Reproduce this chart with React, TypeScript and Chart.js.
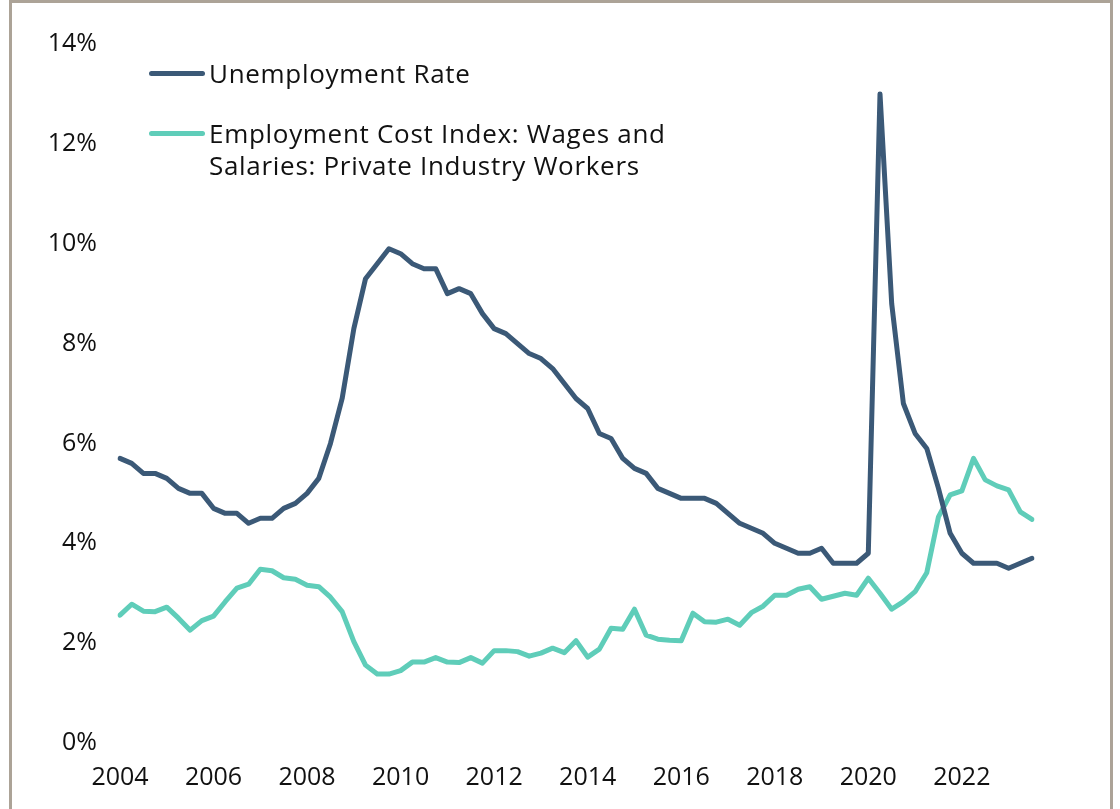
import React, { useEffect, useRef } from "react";
import { Chart, registerables } from "chart.js";

Chart.register(...registerables);

const quarters: string[] = [
  "2004Q1","2004Q2","2004Q3","2004Q4","2005Q1","2005Q2","2005Q3","2005Q4",
  "2006Q1","2006Q2","2006Q3","2006Q4","2007Q1","2007Q2","2007Q3","2007Q4",
  "2008Q1","2008Q2","2008Q3","2008Q4","2009Q1","2009Q2","2009Q3","2009Q4",
  "2010Q1","2010Q2","2010Q3","2010Q4","2011Q1","2011Q2","2011Q3","2011Q4",
  "2012Q1","2012Q2","2012Q3","2012Q4","2013Q1","2013Q2","2013Q3","2013Q4",
  "2014Q1","2014Q2","2014Q3","2014Q4","2015Q1","2015Q2","2015Q3","2015Q4",
  "2016Q1","2016Q2","2016Q3","2016Q4","2017Q1","2017Q2","2017Q3","2017Q4",
  "2018Q1","2018Q2","2018Q3","2018Q4","2019Q1","2019Q2","2019Q3","2019Q4",
  "2020Q1","2020Q2","2020Q3","2020Q4","2021Q1","2021Q2","2021Q3","2021Q4",
  "2022Q1","2022Q2","2022Q3","2022Q4","2023Q1","2023Q2","2023Q3",
];

const unemploymentRate: number[] = [
  5.7, 5.6, 5.4, 5.4, 5.3, 5.1, 5.0, 5.0,
  4.7, 4.6, 4.6, 4.4, 4.5, 4.5, 4.7, 4.8,
  5.0, 5.3, 6.0, 6.9, 8.3, 9.3, 9.6, 9.9,
  9.8, 9.6, 9.5, 9.5, 9.0, 9.1, 9.0, 8.6,
  8.3, 8.2, 8.0, 7.8, 7.7, 7.5, 7.2, 6.9,
  6.7, 6.2, 6.1, 5.7, 5.5, 5.4, 5.1, 5.0,
  4.9, 4.9, 4.9, 4.8, 4.6, 4.4, 4.3, 4.2,
  4.0, 3.9, 3.8, 3.8, 3.9, 3.6, 3.6, 3.6,
  3.8, 13.0, 8.8, 6.8, 6.2, 5.9, 5.1, 4.2,
  3.8, 3.6, 3.6, 3.6, 3.5, 3.6, 3.7,
];

const eciWages: number[] = [
  2.56, 2.78, 2.64, 2.63, 2.72, 2.5, 2.26, 2.45,
  2.54, 2.83, 3.1, 3.18, 3.48, 3.45, 3.31, 3.28,
  3.16, 3.13, 2.92, 2.63, 2.03, 1.56, 1.38, 1.38,
  1.45, 1.62, 1.62, 1.71, 1.62, 1.61, 1.71, 1.6,
  1.85, 1.85, 1.83, 1.74, 1.8, 1.9, 1.81, 2.05,
  1.72, 1.88, 2.3, 2.28, 2.68, 2.16, 2.08, 2.06,
  2.05, 2.6, 2.43, 2.42, 2.48, 2.36, 2.61, 2.74,
  2.96, 2.96, 3.08, 3.13, 2.88, 2.94, 3.0, 2.96,
  3.3, 3.0, 2.68, 2.83, 3.03, 3.41, 4.53, 4.97,
  5.05, 5.7, 5.27, 5.15, 5.07, 4.63, 4.48,
];

const seriesNames: string[] = [
  "Unemployment Rate",
  "Employment Cost Index: Wages and Salaries: Private Industry Workers",
];
const legendLines: string[][] = [
  ["Unemployment Rate"],
  ["Employment Cost Index: Wages and", "Salaries: Private Industry Workers"],
];
const seriesColors: string[] = ["#3b5977", "#5fcdb9"];

const yTicks: number[] = [0, 2, 4, 6, 8, 10, 12, 14];

const FONT = "'Open Sans', 'Noto Sans', sans-serif";
const TEXT = "#111111";

export default function App() {
  const ref = useRef<HTMLCanvasElement | null>(null);

  useEffect(() => {
    if (!ref.current) return;
    const chart = new Chart(ref.current, {
      type: "line",
      data: {
        labels: quarters,
        datasets: [
          {
            label: seriesNames[0],
            data: unemploymentRate,
            borderColor: seriesColors[0],
            backgroundColor: seriesColors[0],
            borderWidth: 5,
            pointRadius: 0,
            tension: 0,
            borderJoinStyle: "round",
            borderCapStyle: "round",
          },
          {
            label: seriesNames[1],
            data: eciWages,
            borderColor: seriesColors[1],
            backgroundColor: seriesColors[1],
            borderWidth: 5,
            pointRadius: 0,
            tension: 0,
            borderJoinStyle: "round",
            borderCapStyle: "round",
          },
        ],
      },
      options: {
        responsive: false,
        animation: false,
        devicePixelRatio: 1,
        layout: { padding: { left: 0, right: 88, top: 44, bottom: 16 } },
        plugins: {
          legend: { display: false },
          tooltip: { enabled: false },
        },
        scales: {
          x: {
            type: "category",
            offset: false,
            grid: { display: false, drawTicks: false },
            border: { display: false },
            ticks: {
              autoSkip: false,
              maxRotation: 0,
              minRotation: 0,
              padding: 20,
              color: TEXT,
              font: { family: FONT, size: 25 },
              callback: (_v: any, i: number) =>
                i % 8 === 0 ? quarters[i].slice(0, 4) : "",
            },
            afterFit: (scale: any) => {
              scale.height = 50;
            },
          },
          y: {
            min: 0,
            max: 14,
            grid: { display: false, drawTicks: false },
            border: { display: false },
            afterBuildTicks: (scale: any) => {
              scale.ticks = yTicks.map((v) => ({ value: v }));
            },
            ticks: {
              padding: 23,
              color: TEXT,
              font: { family: FONT, size: 25 },
              callback: (v: any) => `${v}%`,
            },
            afterFit: (scale: any) => {
              scale.width = 120;
            },
          },
        },
      },
    });
    return () => chart.destroy();
  }, []);

  const legendTops = [73, 133];

  return (
    <div
      style={{
        position: "absolute",
        left: 0,
        top: 0,
        width: 1120,
        height: 809,
        overflow: "hidden",
        background: "#ffffff",
      }}
    >
      <div
        style={{
          position: "absolute",
          left: 9,
          top: 0,
          width: 1104,
          height: 900,
          border: "3px solid #aca397",
          boxSizing: "border-box",
        }}
      />
      <canvas
        ref={ref}
        width={1120}
        height={809}
        style={{ position: "absolute", left: 0, top: 0, width: 1120, height: 809 }}
      />
      {legendLines.map((lines, k) => (
        <div key={k}>
          <div
            style={{
              position: "absolute",
              left: 149,
              top: legendTops[k] - 2.5,
              width: 56,
              height: 5,
              borderRadius: 3,
              background: seriesColors[k],
            }}
          />
          <div
            style={{
              position: "absolute",
              left: 209,
              top: legendTops[k] - 16,
              fontFamily: FONT,
              fontSize: 26,
              letterSpacing: "0.7px",
              lineHeight: "32px",
              color: TEXT,
              whiteSpace: "nowrap",
            }}
          >
            {lines.map((t, j) => (
              <div key={j}>{t}</div>
            ))}
          </div>
        </div>
      ))}
    </div>
  );
}
